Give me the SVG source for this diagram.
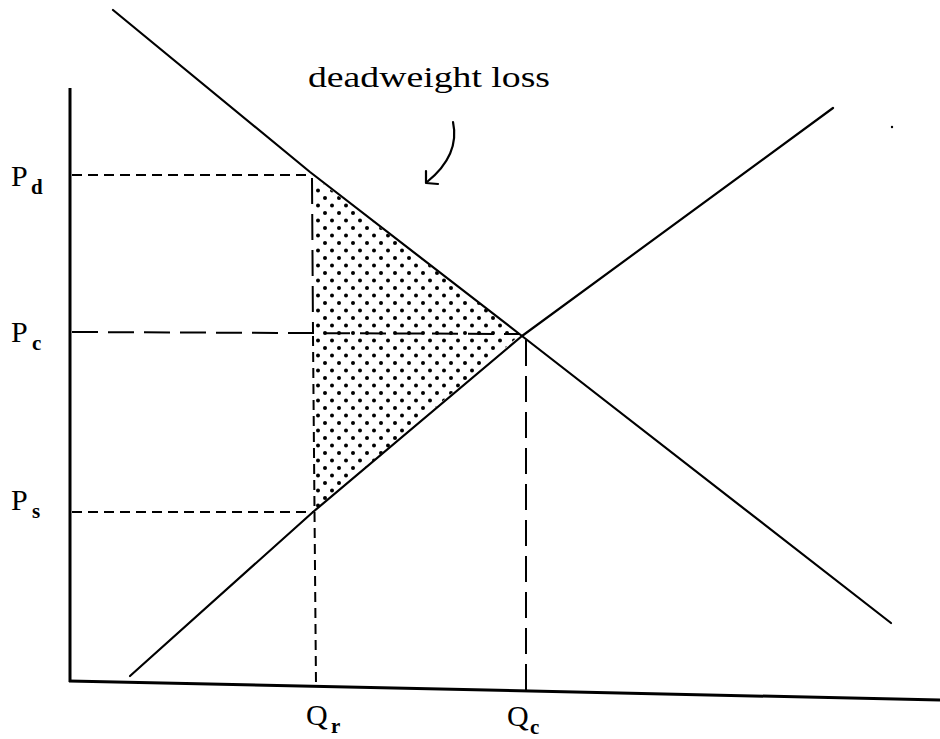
<svg xmlns="http://www.w3.org/2000/svg" width="940" height="739" viewBox="0 0 940 739">
<style>
.ln{fill:none;stroke:#000;stroke-width:2.2;stroke-linecap:round;stroke-linejoin:round}
.ax{fill:none;stroke:#000;stroke-width:3}
.dsS{fill:none;stroke:#000;stroke-width:2;stroke-dasharray:10 6}
.dsL{fill:none;stroke:#000;stroke-width:2;stroke-dasharray:26 10}
.lbl{font-family:"Liberation Serif",serif;font-size:30px;fill:#000}
.sub{font-family:"Liberation Serif",serif;font-size:21px;font-weight:bold;fill:#000}
</style>
<defs>
<pattern id="dots" width="14" height="15" patternUnits="userSpaceOnUse">
<circle cx="3" cy="3" r="2" fill="#000"/>
<circle cx="10" cy="10.5" r="2" fill="#000"/>
</pattern>
</defs>
<rect width="940" height="739" fill="#fff"/>
<g id="deadweight-area">
<polygon points="314,177 520,335 313,512" fill="url(#dots)"/>
</g>
<g id="axes">
<line class="ax" x1="70" y1="88" x2="70" y2="682"/>
<line class="ax" x1="69" y1="681" x2="940" y2="700"/>
</g>
<g id="connectors">
<line class="dsS" x1="72" y1="175" x2="311" y2="175"/>
<line class="dsL" x1="72" y1="332" x2="520" y2="334"/>
<line class="dsS" x1="72" y1="512" x2="313" y2="512"/>
<line class="dsL" x1="312" y1="178" x2="313" y2="332"/>
<line class="dsS" x1="313" y1="336" x2="316" y2="684"/>
<line class="dsL" x1="526" y1="340" x2="526" y2="690"/>
</g>
<g id="demand">
<polyline class="ln" points="113,10 310,172 522,336 891,623"/>
</g>
<g id="supply">
<polyline class="ln" points="130,676 313,512 522,336 833,108"/>
</g>
<g id="label-deadweight">
<text class="lbl" x="308" y="87" textLength="242" lengthAdjust="spacingAndGlyphs">deadweight loss</text>
<path class="ln" d="M453,122 C458,145 448,165 427,182"/>
<path class="ln" d="M426,171 L426,183 L438,184"/>
</g>
<g id="label-Pd"><text class="lbl" x="11" y="186">P</text><text class="sub" x="31" y="194">d</text></g>
<g id="label-Pc"><text class="lbl" x="11" y="342">P</text><text class="sub" x="32" y="350">c</text></g>
<g id="label-Ps"><text class="lbl" x="11" y="510">P</text><text class="sub" x="32" y="518">s</text></g>
<g id="label-Qr"><text class="lbl" x="306" y="725">Q</text><text class="sub" x="331" y="733">r</text></g>
<g id="label-Qc"><text class="lbl" x="507" y="726">Q</text><text class="sub" x="530" y="734">c</text></g>
<circle cx="892" cy="127" r="1.2" fill="#000"/>
</svg>
